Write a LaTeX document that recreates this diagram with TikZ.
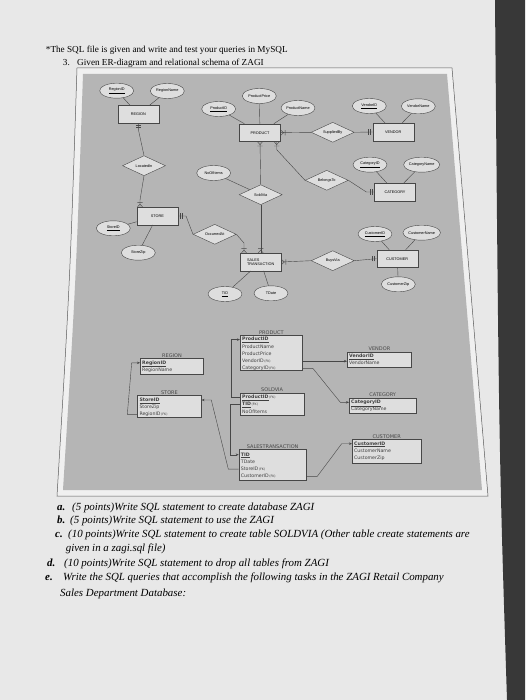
\documentclass[tikz,border=0pt]{standalone}
\usepackage{fontspec}
\setmainfont{Liberation Serif}
\newfontfamily\erfont{Liberation Sans}
\newfontfamily\relfont{DejaVu Sans}
\usetikzlibrary{shapes.geometric, arrows.meta, positioning, calc}

\definecolor{paper}{gray}{0.91}
\definecolor{sheet}{gray}{0.94}
\definecolor{panel}{gray}{0.71}
\definecolor{boxfill}{gray}{0.87}
\definecolor{ink}{gray}{0.28}
\definecolor{desk}{gray}{0.22}

\newcommand{\pk}[1]{\textbf{\underline{#1}}}
\newcommand{\fk}{{\fontsize{3.2}{4}\selectfont\,(FK)}}

\begin{document}
\begin{tikzpicture}[x=1pt, y=-1pt,
  ent/.style={rectangle, draw=ink, fill=boxfill, minimum width=41pt, minimum height=17.5pt, inner sep=0pt, font=\erfont\fontsize{3.8}{4.4}\selectfont},
  attr/.style={ellipse, draw=ink, fill=boxfill, minimum width=34pt, minimum height=15pt, inner sep=0pt, font=\erfont\fontsize{3.8}{4.4}\selectfont},
  rel/.style={diamond, draw=ink, fill=boxfill, aspect=2, minimum width=43pt, minimum height=20pt, inner sep=0pt, font=\erfont\fontsize{3.8}{4.4}\selectfont},
  erline/.style={draw=ink, line width=0.4pt},
  tab/.style={rectangle, draw=ink, fill=boxfill, anchor=north west, inner sep=0pt, line width=0.6pt},
  tabtitle/.style={font=\relfont\fontsize{5}{6}\selectfont, text=ink, inner sep=0.6pt},
  field/.style={inner sep=0pt, text height=3.6pt, text depth=1pt, minimum height=6.8pt, font=\relfont\fontsize{4.7}{5.5}\selectfont, text=black!75},
  under/.style={field, below right=0pt and 0pt of #1.south west},
  fkarrow/.style={-{Stealth[length=3pt,width=2.4pt]}, draw=ink, line width=0.4pt},
  onlyone/.pic={\draw[ink, line width=0.4pt] (2,-2.6) -- (2,2.6) (4,-2.6) -- (4,2.6);},
  onemany/.pic={\draw[ink, line width=0.4pt] (0,-2.6) -- (3,0) -- (0,2.6) (4.4,-2.6) -- (4.4,2.6);},
  task/.style={anchor=base west, inner sep=0pt, font=\fontsize{10.9}{12}\selectfont\itshape},
  tasknum/.style={anchor=base west, inner sep=0pt, font=\fontsize{10.9}{12}\selectfont\bfseries\itshape},
  headline/.style={anchor=base west, inner sep=0pt, font=\fontsize{9.2}{11}\selectfont}
]
  \useasboundingbox (0,0) rectangle (525,700);
  \fill[paper] (0,0) rectangle (525,700);
  \fill[desk] (495,0) -- (525,0) -- (525,700) -- (507,700) .. controls (499,450) .. (495,0) -- cycle;

  % frame and grey panel
  \filldraw[draw=black!65, fill=sheet, line width=0.5pt] (77,68) -- (452,68) -- (488,496) -- (57,496) .. controls (70,280) .. (77,68) -- cycle;
  \fill[panel] (83,74) -- (447,74) -- (482,490) -- (63,490) .. controls (76,280) .. (83,74) -- cycle;

  \node[headline] (head) at (45.7,53) {*The SQL file is given and write and test your queries in MySQL};
  \node[headline] (qnum) at (62.7,65.5) {3.};
  \node[headline] (qtext) at (77,65.5) {Given ER-diagram and relational schema of ZAGI};

  % ER diagram
  \node[attr] (regionID) at (116.7,90.7) {\underline{RegionID}};
  \node[attr] (regionName) at (167.3,91) {RegionName};
  \node[ent] (region) at (138.3,114.3) {REGION};
  \node[rel] (locatedIn) at (144,165.7) {LocatedIn};
  \node[ent] (store) at (157.3,216) {STORE};
  \node[attr] (storeID) at (113.3,228.3) {\underline{StoreID}};
  \node[attr] (storeZip) at (138.3,252.7) {StoreZip};
  \node[rel] (occurredAt) at (214.7,234.3) {OccurredAt};
  \node[attr] (productPrice) at (259.3,96) {ProductPrice};
  \node[attr] (productID) at (218.7,109) {\underline{ProductID}};
  \node[attr] (productName) at (298,108) {ProductName};
  \node[ent] (product) at (260,132.7) {PRODUCT};
  \node[rel] (suppliedBy) at (332.7,132.3) {SuppliedBy};
  \node[attr] (vendorID) at (369.3,106) {\underline{VendorID}};
  \node[attr] (vendorName) at (418.3,106.3) {VendorName};
  \node[ent] (vendor) at (393.3,132) {VENDOR};
  \node[attr] (noOfItems) at (213.7,173) {NoOfItems};
  \node[rel] (soldVia) at (260.7,194.7) {SoldVia};
  \node[rel] (belongsTo) at (326.7,180.3) {BelongsTo};
  \node[attr] (categoryID) at (370,164.7) {\underline{CategoryID}};
  \node[attr] (categoryName) at (421.7,164.7) {CategoryName};
  \node[ent] (category) at (395,192) {CATEGORY};
  \node[ent, align=left] (salesTx) at (260.7,262) {SALES\\TRANSACTION};
  \node[attr] (tid) at (225,294) {\underline{TID}};
  \node[attr] (tdate) at (271,293.3) {TDate};
  \node[rel] (buysVia) at (332.7,260.7) {BuysVia};
  \node[attr] (customerID) at (375,234) {\underline{CustomerID}};
  \node[attr] (customerName) at (421.7,232.7) {CustomerName};
  \node[ent] (customer) at (397.3,258.7) {CUSTOMER};
  \node[attr] (customerZip) at (398.3,284.3) {CustomerZip};

  \foreach \a/\e in {regionID/region, regionName/region, storeID/store, storeZip/store,
      productPrice/product, productID/product, productName/product, vendorID/vendor,
      vendorName/vendor, categoryID/category, categoryName/category, tid/salesTx,
      tdate/salesTx, customerID/customer, customerName/customer, customerZip/customer,
      noOfItems/soldVia}
    \draw[erline] (\a) -- (\e);

  \draw[erline] (region.south) -- ++(0,6) -- (locatedIn.north);
  \pic[rotate=-90] at (region.south) {onlyone};
  \coordinate (storeTop) at ($(store.north -| locatedIn.south)+(-4,0)$);
  \draw[erline] (locatedIn.south) -- ($(storeTop)+(0,-7)$) -- (storeTop);
  \pic[rotate=90] at (storeTop) {onemany};

  \draw[erline] (product.east) -- (suppliedBy.west);
  \pic at (product.east) {onemany};
  \draw[erline] (suppliedBy.east) -- (vendor.west);
  \pic[rotate=180] at (vendor.west) {onlyone};

  \draw[erline] (product.south) -- (soldVia.north);
  \pic[rotate=-90] at (product.south) {onemany};
  \draw[erline] (soldVia.south) -- (salesTx.north);
  \pic[rotate=90] at (salesTx.north) {onemany};

  \coordinate (prodFoot) at ($(product.south)+(16.7,0)$);
  \draw[erline] (prodFoot) -- ++(0,8) -- (belongsTo.west);
  \pic[rotate=-90] at (prodFoot) {onemany};
  \draw[erline] (belongsTo.east) -- ($(category.west)+(-8,0)$) -- (category.west);
  \pic[rotate=180] at (category.west) {onlyone};

  \draw[erline] (store.east) -- ++(8,0) -- (occurredAt.west);
  \pic at (store.east) {onlyone};
  \coordinate (salesFoot) at ($(salesTx.north)+(-16.7,0)$);
  \draw[erline] (occurredAt.east) -- ($(salesFoot)+(0,-10)$) -- (salesFoot);
  \pic[rotate=90] at (salesFoot) {onemany};

  \draw[erline] (salesTx.east) -- (buysVia.west);
  \pic at (salesTx.east) {onemany};
  \draw[erline] (buysVia.east) -- (customer.west);
  \pic[rotate=180] at (customer.west) {onlyone};

  % relational schema
  \node[tab, minimum width=62.3pt, minimum height=35pt, label={[tabtitle]above:PRODUCT}] (tProduct) at (240,335) {};
  \node[field, below right=1pt and 2pt of tProduct.north west] (pProductID) {\pk{ProductID}};
  \node[under=pProductID] (pProductName) {ProductName};
  \node[under=pProductName] (pProductPrice) {ProductPrice};
  \node[under=pProductPrice] (pVendorID) {VendorID\fk};
  \node[under=pVendorID] (pCategoryID) {CategoryID\fk};

  \node[tab, minimum width=63.3pt, minimum height=15.6pt, label={[tabtitle]above:REGION}] (tRegion) at (140,358) {};
  \node[field, below right=1.2pt and 2pt of tRegion.north west] (rRegionID) {\pk{RegionID}};
  \node[under=rRegionID] (rRegionName) {RegionName};

  \node[tab, minimum width=64.3pt, minimum height=15pt, label={[tabtitle]above:VENDOR}] (tVendor) at (347,351.7) {};
  \node[field, below right=1pt and 2pt of tVendor.north west] (vVendorID) {\pk{VendorID}};
  \node[under=vVendorID] (vVendorName) {VendorName};

  \node[tab, minimum width=63.7pt, minimum height=22.4pt, label={[tabtitle]above:STORE}] (tStore) at (137.3,395) {};
  \node[field, below right=1.4pt and 2pt of tStore.north west] (sStoreID) {\pk{StoreID}};
  \node[under=sStoreID] (sStoreZip) {StoreZip};
  \node[under=sStoreZip] (sRegionID) {RegionID\fk};

  \node[tab, minimum width=63.7pt, minimum height=22pt, label={[tabtitle]above:SOLDVIA}] (tSoldVia) at (240,392.7) {};
  \node[field, below right=1pt and 2pt of tSoldVia.north west] (oProductID) {\pk{ProductID}\fk};
  \node[under=oProductID] (oTID) {\pk{TID}\fk};
  \node[under=oTID] (oNoOfItems) {NoOfItems};

  \node[tab, minimum width=66.7pt, minimum height=15pt, label={[tabtitle]above:CATEGORY}] (tCategory) at (349,397.7) {};
  \node[field, below right=1pt and 2pt of tCategory.north west] (gCategoryID) {\pk{CategoryID}};
  \node[under=gCategoryID] (gCategoryName) {CategoryName};

  \node[tab, minimum width=68.7pt, minimum height=24pt, label={[tabtitle]above:CUSTOMER}] (tCustomer) at (352,439.3) {};
  \node[field, below right=0.8pt and 2pt of tCustomer.north west] (cCustomerID) {\pk{CustomerID}};
  \node[under=cCustomerID] (cCustomerName) {CustomerName};
  \node[under=cCustomerName] (cCustomerZip) {CustomerZip};

  \node[tab, minimum width=67.3pt, minimum height=31pt, label={[tabtitle]above:SALESTRANSACTION}] (tSales) at (238.7,449.3) {};
  \node[field, below right=1.8pt and 2pt of tSales.north west] (xTID) {\pk{TID}};
  \node[under=xTID] (xTDate) {TDate};
  \node[under=xTDate] (xStoreID) {StoreID\fk};
  \node[under=xStoreID] (xCustomerID) {CustomerID\fk};

  \draw[fkarrow] (tStore.west |- sRegionID) -- ++(-10,0) -- ($(tRegion.west |- rRegionID)+(-8.3,0)$) -- (tRegion.west |- rRegionID);
  \draw[fkarrow] (tSoldVia.west |- oProductID) -- ++(-9.3,0) |- (tProduct.west |- pProductID);
  \draw[fkarrow] (tSoldVia.west |- oTID) -- ++(-10,0) |- (tSales.west |- xTID);
  \draw[fkarrow] (tSales.west |- xStoreID) -- ++(-10.4,0) -- ($(tStore.east |- sStoreID)+(9.7,0)$) -- (tStore.east |- sStoreID);
  \draw[fkarrow] (tSales.east |- xCustomerID) -- ++(10.7,0) -- ($(tCustomer.west |- cCustomerID)+(-10.3,0)$) -- (tCustomer.west |- cCustomerID);
  \draw[fkarrow] (tProduct.east |- pVendorID) -- (tVendor.west |- pVendorID);
  \draw[fkarrow] (tProduct.east |- pCategoryID) -- ++(10,0) -- ($(tCategory.west |- gCategoryID)+(-8.7,0)$) -- (tCategory.west |- gCategoryID);

  % questions
  \node[tasknum] (na) at (57,510) {a.};
  \node[task] (ta) at (72,510) {(5 points)Write SQL statement to create database ZAGI};
  \node[tasknum] (nb) at (57,523.5) {b.};
  \node[task] (tb) at (70,523.5) {(5 points)Write SQL statement to use the ZAGI};
  \node[tasknum] (nc) at (55,537.5) {c.};
  \node[task] (tc) at (68,537.5) {(10 points)Write SQL statement to create table SOLDVIA (Other table create statements are};
  \node[task] (tc2) at (65.7,551.5) {given in a zagi.sql file)};
  \node[tasknum] (nd) at (47,566) {d.};
  \node[task] (td) at (64,566) {(10 points)Write SQL statement to drop all tables from ZAGI};
  \node[tasknum] (ne) at (45,580) {e.};
  \node[task] (te) at (63,580) {Write the SQL queries that accomplish the following tasks in the ZAGI Retail Company};
  \node[task] (te2) at (60,596) {Sales Department Database:};
\end{tikzpicture}
\end{document}
